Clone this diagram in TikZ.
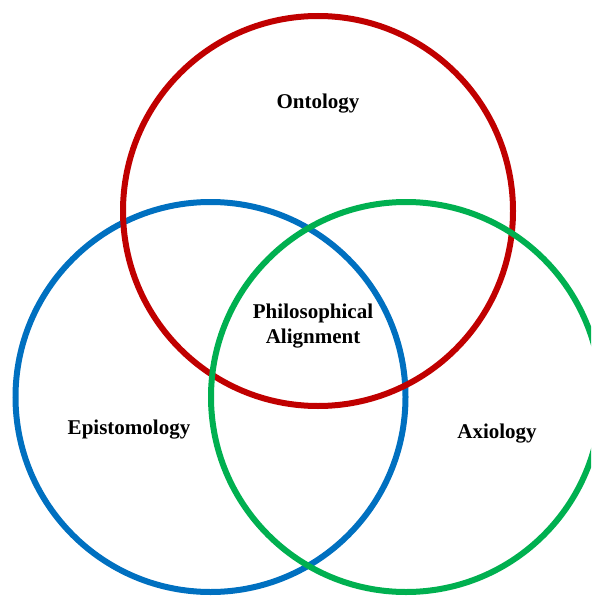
\documentclass[tikz,border=0pt]{standalone}
\usepackage{fontspec}
\setmainfont{Liberation Serif}
\definecolor{ontored}{HTML}{C00000}
\definecolor{epiblue}{HTML}{0070C0}
\definecolor{axigreen}{HTML}{00B050}
\begin{document}
\begin{tikzpicture}[x=1pt,y=-1pt,
  ring/.style={line width=6pt},
  lbl/.style={font=\fontsize{21}{25}\selectfont\bfseries, align=center, inner sep=0pt}]
\useasboundingbox (0,0) rectangle (591,599);
\clip (0,0) rectangle (591,599);
% three overlapping sets
\draw[ring, epiblue]  (210.5,397) circle[radius=195];
\draw[ring, ontored]  (318,211)   circle[radius=195];
\draw[ring, axigreen] (406,397)   circle[radius=195];
% labels
\node[lbl] (onto) at (318,104) {Ontology};
\node[lbl] (epi)  at (129,430) {Epistomology};
\node[lbl] (axi)  at (497,434) {Axiology};
\node[lbl] (core) at (313,326) {Philosophical\\Alignment};
\end{tikzpicture}
\end{document}
